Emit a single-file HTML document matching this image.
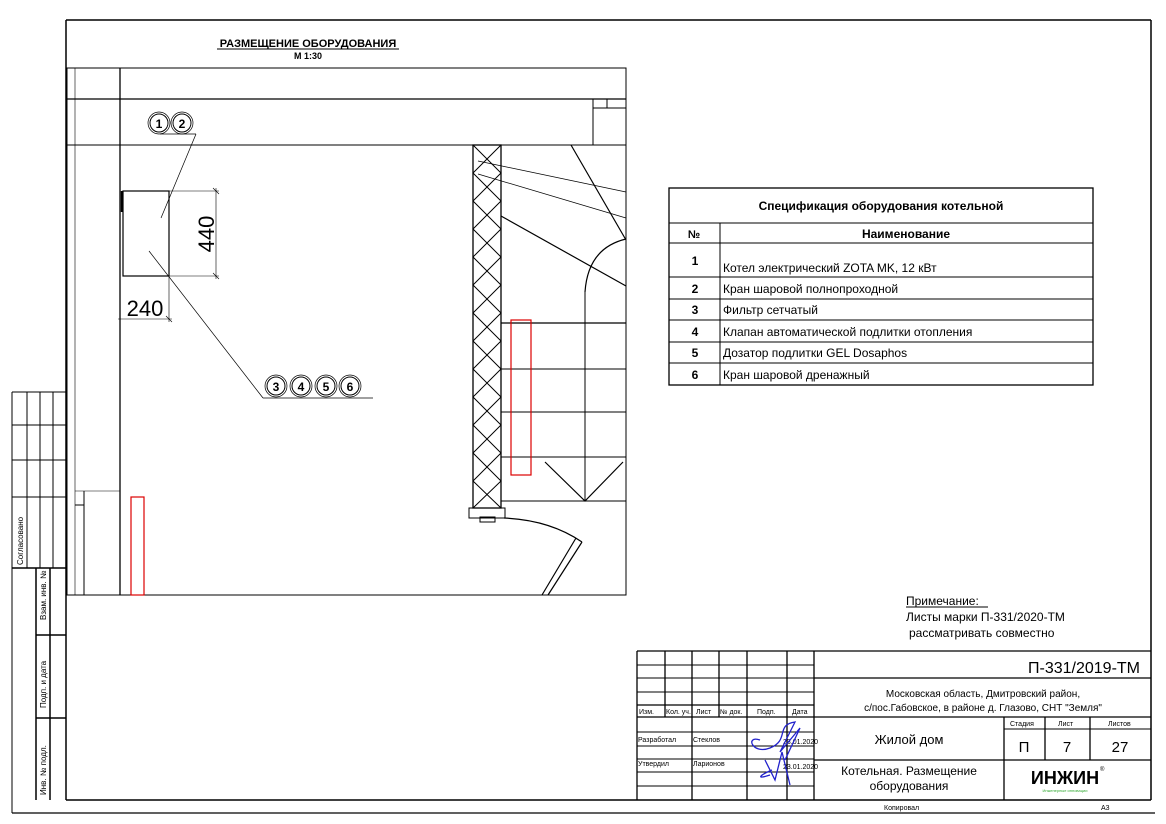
<!DOCTYPE html>
<html><head><meta charset="utf-8"><style>
html,body{margin:0;padding:0;background:#fff}
svg{display:block}
text{font-family:"Liberation Sans",sans-serif;fill:#000}
</style></head><body>
<svg width="1166" height="824" viewBox="0 0 1166 824" xmlns="http://www.w3.org/2000/svg">
<rect width="1166" height="824" fill="#fff"/>
<!-- frame -->
<g stroke="#000" fill="none">
<line x1="66" y1="20" x2="1151" y2="20" stroke-width="1.5"/>
<line x1="66" y1="20" x2="66" y2="800" stroke-width="1.5"/>
<line x1="1151" y1="20" x2="1151" y2="800" stroke-width="1.5"/>
<line x1="66" y1="800" x2="1151" y2="800" stroke-width="1.5"/>
<line x1="12" y1="813" x2="1155" y2="813" stroke-width="1.2"/>
<line x1="12" y1="392" x2="12" y2="813" stroke-width="1"/>
</g>
<!-- left strip -->
<g stroke="#000" fill="none" stroke-width="1">
<line x1="12" y1="392" x2="66" y2="392"/>
<line x1="12" y1="425" x2="66" y2="425"/>
<line x1="12" y1="460" x2="66" y2="460"/>
<line x1="12" y1="497" x2="66" y2="497"/>
<line x1="12" y1="568" x2="66" y2="568" stroke-width="1.5"/>
<line x1="27" y1="392" x2="27" y2="568"/>
<line x1="40" y1="392" x2="40" y2="568"/>
<line x1="53" y1="392" x2="53" y2="568"/>
<line x1="36" y1="568" x2="36" y2="800" stroke-width="1.5"/>
<line x1="50" y1="568" x2="50" y2="800" stroke-width="1.5"/>
<line x1="36" y1="635" x2="66" y2="635" stroke-width="1.5"/>
<line x1="36" y1="718" x2="66" y2="718" stroke-width="1.5"/>
</g>
<g font-size="8">
<text transform="translate(23,565) rotate(-90)">Согласовано</text>
<text transform="translate(46,620) rotate(-90)">Взам. инв. №</text>
<text transform="translate(46,708) rotate(-90)">Подп. и дата</text>
<text transform="translate(46,795) rotate(-90)">Инв. № подл.</text>
</g>
<!-- title -->
<text x="308" y="47" font-size="11" font-weight="bold" text-anchor="middle">РАЗМЕЩЕНИЕ ОБОРУДОВАНИЯ</text>
<line x1="217" y1="49" x2="399" y2="49" stroke="#000" stroke-width="1"/>
<text x="308" y="59" font-size="9" font-weight="bold" text-anchor="middle">М 1:30</text>
<!-- plan -->
<g stroke="#000" fill="none" stroke-width="1">
<rect x="67" y="68" width="559" height="527"/>
<line x1="120" y1="68" x2="120" y2="595" stroke-width="1.3"/>
<line x1="66" y1="99" x2="626" y2="99" stroke-width="1.3"/>
<line x1="66" y1="145" x2="626" y2="145"/>
<line x1="75" y1="68" x2="75" y2="595" stroke-width="0.6"/>
<rect x="593" y="99" width="33" height="46"/>
<line x1="593" y1="108" x2="626" y2="108"/>
<line x1="607" y1="99" x2="607" y2="108"/>
<line x1="75" y1="491" x2="120" y2="491" stroke-width="0.6"/>
<line x1="84" y1="491" x2="84" y2="595"/>
<line x1="75" y1="505" x2="84" y2="505"/>
<!-- boiler -->
<rect x="123" y="191" width="46" height="85" stroke-width="1.2"/>
<line x1="122" y1="191" x2="122" y2="212" stroke-width="2.5"/>
<!-- dims -->
<line x1="169" y1="191" x2="219" y2="191" stroke-width="0.6"/>
<line x1="169" y1="276" x2="219" y2="276" stroke-width="0.6"/>
<line x1="216" y1="188" x2="216" y2="279" stroke-width="0.6"/>
<line x1="213" y1="188" x2="219" y2="194" stroke-width="0.6"/>
<line x1="213" y1="273" x2="219" y2="279" stroke-width="0.6"/>
<line x1="169" y1="276" x2="169" y2="322" stroke-width="0.6"/>
<line x1="118" y1="319" x2="172" y2="319" stroke-width="0.6"/>
<line x1="166" y1="316" x2="172" y2="322" stroke-width="0.6"/>
<!-- leaders -->
<line x1="160" y1="134" x2="196" y2="134" stroke-width="0.7"/>
<line x1="196" y1="134" x2="161" y2="218" stroke-width="0.7"/>
<line x1="149" y1="251" x2="263" y2="398" stroke-width="0.7"/>
<line x1="263" y1="398" x2="373" y2="398" stroke-width="0.8"/>
<!-- circles -->
<circle cx="159" cy="123" r="11" stroke-width="0.7"/><circle cx="159" cy="123" r="9"/>
<circle cx="182" cy="123" r="11" stroke-width="0.7"/><circle cx="182" cy="123" r="9"/>
<circle cx="276" cy="386" r="11" stroke-width="0.7"/><circle cx="276" cy="386" r="9"/>
<circle cx="301" cy="386" r="11" stroke-width="0.7"/><circle cx="301" cy="386" r="9"/>
<circle cx="326" cy="386" r="11" stroke-width="0.7"/><circle cx="326" cy="386" r="9"/>
<circle cx="350" cy="386" r="11" stroke-width="0.7"/><circle cx="350" cy="386" r="9"/>
<!-- hatched wall -->
<rect x="473" y="145" width="28" height="363" stroke-width="1.3"/>
<path d="M473,145 L501,173 L473,201 L501,229 L473,257 L501,285 L473,313 L501,341 L473,369 L501,397 L473,425 L501,453 L473,481 L501,508 M501,145 L473,173 L501,201 L473,229 L501,257 L473,285 L501,313 L473,341 L501,369 L473,397 L501,425 L473,453 L501,481 L473,508" stroke-width="1"/>
<rect x="469" y="508" width="36" height="10"/>
<rect x="480" y="517" width="15" height="5"/>
<!-- stair area -->
<line x1="501" y1="323" x2="626" y2="323" stroke-width="1.2"/>
<line x1="501" y1="369" x2="626" y2="369"/>
<line x1="501" y1="412" x2="626" y2="412"/>
<line x1="501" y1="457" x2="626" y2="457"/>
<line x1="501" y1="501" x2="626" y2="501"/>
<line x1="585" y1="292" x2="585" y2="501"/>
<path d="M585,292 Q588,248 626,239" stroke-width="1.2"/>
<line x1="571" y1="145" x2="626" y2="240" stroke-width="1.2"/>
<line x1="501" y1="216" x2="626" y2="286" stroke-width="1.2"/>
<line x1="478" y1="161" x2="626" y2="192" stroke-width="0.7"/>
<line x1="478" y1="174" x2="626" y2="218" stroke-width="0.7"/>
<polyline points="545,462 585,501 623,462" stroke-width="1.2"/>
<path d="M504,518 Q550,520 582,542" stroke-width="1.2"/>
<line x1="582" y1="542" x2="548" y2="595" stroke-width="1.2"/>
<line x1="576" y1="538" x2="542" y2="595" stroke-width="1.2"/>
</g>
<rect x="511" y="320" width="20" height="155" fill="none" stroke="#d00" stroke-width="1.2"/>
<rect x="131" y="497" width="13" height="98" fill="none" stroke="#d00" stroke-width="1.2"/>
<g font-size="12" font-weight="bold" text-anchor="middle">
<text x="159" y="128">1</text><text x="182" y="128">2</text>
<text x="276" y="391">3</text><text x="301" y="391">4</text><text x="326" y="391">5</text><text x="350" y="391">6</text>
</g>
<text x="145" y="316" font-size="22" text-anchor="middle">240</text>
<text transform="translate(214,234) rotate(-90)" font-size="22" text-anchor="middle">440</text>
<!-- spec table -->
<g stroke="#000" fill="none" stroke-width="1">
<rect x="669" y="188" width="424" height="197" stroke-width="1.3"/>
<line x1="669" y1="223" x2="1093" y2="223"/>
<line x1="669" y1="243" x2="1093" y2="243"/>
<line x1="669" y1="277" x2="1093" y2="277"/>
<line x1="669" y1="299" x2="1093" y2="299"/>
<line x1="669" y1="320" x2="1093" y2="320"/>
<line x1="669" y1="342" x2="1093" y2="342"/>
<line x1="669" y1="363" x2="1093" y2="363"/>
<line x1="720" y1="223" x2="720" y2="385"/>
</g>
<g font-size="12">
<text x="881" y="210" font-weight="bold" text-anchor="middle">Спецификация оборудования котельной</text>
<text x="694" y="238" font-weight="bold" text-anchor="middle" font-size="11">№</text>
<text x="906" y="238" font-weight="bold" text-anchor="middle">Наименование</text>
<g text-anchor="middle" font-weight="bold">
<text x="695" y="265">1</text><text x="695" y="293">2</text><text x="695" y="314">3</text><text x="695" y="336">4</text><text x="695" y="357">5</text><text x="695" y="379">6</text>
</g>
<text x="723" y="272">Котел электрический ZOTA MK, 12 кВт</text>
<text x="723" y="293">Кран шаровой полнопроходной</text>
<text x="723" y="314">Фильтр сетчатый</text>
<text x="723" y="336">Клапан автоматической подлитки отопления</text>
<text x="723" y="357">Дозатор подлитки GEL Dosaphos</text>
<text x="723" y="379">Кран шаровой дренажный</text>
</g>
<!-- note -->
<g font-size="12">
<text x="906" y="605">Примечание:</text>
<line x1="906" y1="607" x2="988" y2="607" stroke="#000" stroke-width="1"/>
<text x="906" y="621">Листы марки П-331/2020-ТМ</text>
<text x="909" y="637">рассматривать совместно</text>
</g>
<!-- title block -->
<g stroke="#000" fill="none" stroke-width="1.3">
<line x1="637" y1="651" x2="1151" y2="651"/>
<line x1="637" y1="651" x2="637" y2="800"/>
<line x1="814" y1="651" x2="814" y2="800"/>
<line x1="814" y1="678" x2="1151" y2="678"/>
<line x1="814" y1="717" x2="1151" y2="717"/>
<line x1="814" y1="760" x2="1151" y2="760"/>
<line x1="1004" y1="717" x2="1004" y2="800"/>
<line x1="1045" y1="717" x2="1045" y2="760"/>
<line x1="1090" y1="717" x2="1090" y2="760"/>
<line x1="1004" y1="729" x2="1151" y2="729" stroke-width="1"/>
<line x1="637" y1="665" x2="814" y2="665" stroke-width="1"/>
<line x1="637" y1="678" x2="814" y2="678" stroke-width="1"/>
<line x1="637" y1="692" x2="814" y2="692" stroke-width="1"/>
<line x1="637" y1="705" x2="814" y2="705"/>
<line x1="637" y1="717" x2="814" y2="717"/>
<line x1="637" y1="732" x2="814" y2="732" stroke-width="1"/>
<line x1="637" y1="746" x2="814" y2="746" stroke-width="1"/>
<line x1="637" y1="759" x2="814" y2="759" stroke-width="1"/>
<line x1="637" y1="772" x2="814" y2="772" stroke-width="1"/>
<line x1="637" y1="786" x2="814" y2="786" stroke-width="1"/>
<line x1="665" y1="651" x2="665" y2="717"/>
<line x1="692" y1="651" x2="692" y2="800"/>
<line x1="719" y1="651" x2="719" y2="717"/>
<line x1="747" y1="651" x2="747" y2="800"/>
<line x1="787" y1="651" x2="787" y2="800"/>
</g>
<g font-size="7">
<text x="639" y="714">Изм.</text><text x="666" y="714">Кол. уч.</text><text x="696" y="714">Лист</text><text x="720" y="714">№ док.</text><text x="757" y="714">Подп.</text><text x="792" y="714">Дата</text>
<text x="638" y="742">Разработал</text><text x="693" y="742">Стеклов</text>
<text x="638" y="766">Утвердил</text><text x="693" y="766">Ларионов</text>
<text x="783" y="744">23.01.2020</text><text x="783" y="769">23.01.2020</text>
<text x="1010" y="726">Стадия</text><text x="1058" y="726">Лист</text><text x="1108" y="726">Листов</text>
<text x="884" y="810">Копировал</text><text x="1101" y="810">А3</text>
</g>
<path d="M760,740 C745,735 752,755 770,748 C790,740 775,725 795,722 L780,752 L800,728 L785,760 M765,760 L775,780 L782,752 L790,785 M772,770 C760,775 755,780 770,775" stroke="#22c" fill="none" stroke-width="1.3"/>
<text x="1140" y="673" font-size="16" text-anchor="end">П-331/2019-ТМ</text>
<text x="983" y="697" font-size="10" text-anchor="middle">Московская область, Дмитровский район,</text>
<text x="983" y="711" font-size="10" text-anchor="middle">с/пос.Габовское, в районе д. Глазово, СНТ "Земля"</text>
<text x="909" y="744" font-size="13" text-anchor="middle">Жилой дом</text>
<text x="909" y="775" font-size="12" text-anchor="middle">Котельная. Размещение</text>
<text x="909" y="790" font-size="12" text-anchor="middle">оборудования</text>
<text x="1024" y="752" font-size="15" text-anchor="middle">П</text>
<text x="1067" y="752" font-size="15" text-anchor="middle">7</text>
<text x="1120" y="752" font-size="15" text-anchor="middle">27</text>
<text x="1065" y="784" font-size="18" font-weight="bold" text-anchor="middle">ИНЖИН</text>
<text x="1100" y="771" font-size="6">®</text>
<text x="1065" y="792" font-size="4" fill="#3a3" style="fill:#3a3" text-anchor="middle">Инженерные инновации</text>
</svg>
</body></html>
